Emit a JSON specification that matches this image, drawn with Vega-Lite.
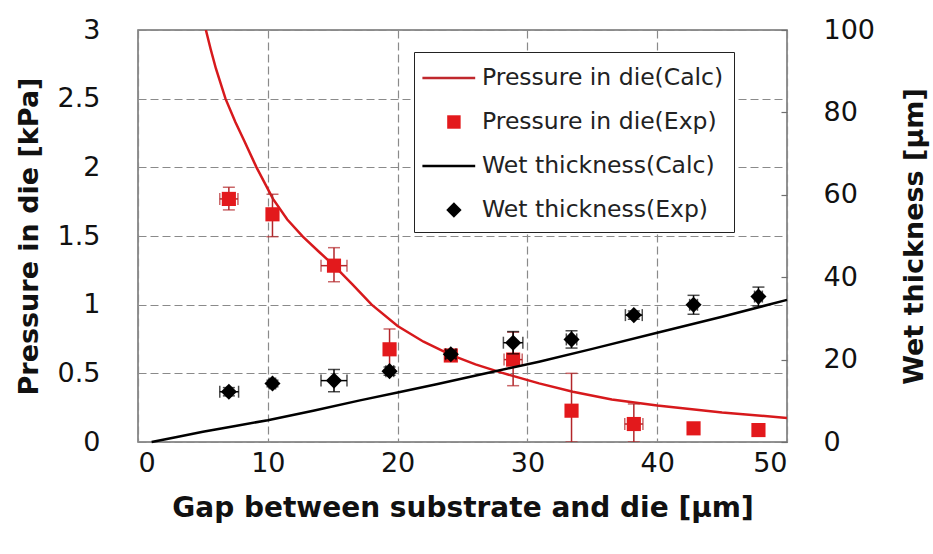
{
  "$schema": "https://vega.github.io/schema/vega-lite/v6.json",
  "width": 649,
  "height": 412,
  "autosize": {"type": "none"},
  "padding": {"left": 138, "top": 30, "right": 146, "bottom": 112},
  "background": "white",
  "config": {
    "font": "DejaVu Sans",
    "view": {"stroke": "#6f6f6f", "strokeWidth": 1.5},
    "axis": {"labelFont": "DejaVu Sans", "titleFont": "DejaVu Sans", "labelColor": "#111", "titleColor": "#111", "domain": false}
  },
  "datasets": {
    "calcP": [
      {"gap": 5.23, "p": 3.0}, {"gap": 5.6, "p": 2.86}, {"gap": 6.0, "p": 2.72}, {"gap": 6.74, "p": 2.5},
      {"gap": 7.5, "p": 2.33}, {"gap": 8.2, "p": 2.19}, {"gap": 9.13, "p": 2.0}, {"gap": 10.4, "p": 1.77},
      {"gap": 11.5, "p": 1.62}, {"gap": 12.7, "p": 1.495}, {"gap": 14.0, "p": 1.38}, {"gap": 15.1, "p": 1.285},
      {"gap": 16.5, "p": 1.15}, {"gap": 18.0, "p": 1.0}, {"gap": 20.0, "p": 0.845}, {"gap": 22.0, "p": 0.73},
      {"gap": 24.1, "p": 0.635}, {"gap": 26.0, "p": 0.565}, {"gap": 28.0, "p": 0.505}, {"gap": 30.9, "p": 0.427},
      {"gap": 33.5, "p": 0.366}, {"gap": 36.5, "p": 0.31}, {"gap": 40.0, "p": 0.266}, {"gap": 45.0, "p": 0.215},
      {"gap": 50.0, "p": 0.175}
    ],
    "calcW": [
      {"gap": 1.05, "w": 0}, {"gap": 3.0, "w": 1.2}, {"gap": 5.0, "w": 2.5}, {"gap": 7.5, "w": 3.9},
      {"gap": 10.0, "w": 5.3}, {"gap": 13.5, "w": 7.6}, {"gap": 17.1, "w": 10.1}, {"gap": 20.0, "w": 12.0},
      {"gap": 23.0, "w": 14.0}, {"gap": 26.3, "w": 16.3}, {"gap": 30.9, "w": 19.5}, {"gap": 35.0, "w": 22.6},
      {"gap": 40.0, "w": 26.5}, {"gap": 45.0, "w": 30.4}, {"gap": 50.0, "w": 34.5}
    ],
    "expP": [
      {"gap": 7.0, "p": 1.77, "pLo": 1.69, "pHi": 1.855, "gLo": 6.3, "gHi": 7.7},
      {"gap": 10.36, "p": 1.658, "pLo": 1.495, "pHi": 1.804, "gLo": 10.1, "gHi": 10.6},
      {"gap": 15.1, "p": 1.284, "pLo": 1.167, "pHi": 1.415, "gLo": 14.1, "gHi": 16.1},
      {"gap": 19.38, "p": 0.675, "pLo": 0.527, "pHi": 0.823, "gLo": 19.1, "gHi": 19.7},
      {"gap": 24.1, "p": 0.63, "pLo": 0.59, "pHi": 0.67, "gLo": 23.8, "gHi": 24.4},
      {"gap": 28.9, "p": 0.6, "pLo": 0.41, "pHi": 0.8, "gLo": 28.2, "gHi": 29.6},
      {"gap": 33.4, "p": 0.228, "pLo": 0.0, "pHi": 0.5, "gLo": 33.1, "gHi": 33.7},
      {"gap": 38.2, "p": 0.131, "pLo": 0.0, "pHi": 0.277, "gLo": 37.5, "gHi": 38.9},
      {"gap": 42.8, "p": 0.0995, "pLo": 0.08, "pHi": 0.12, "gLo": 42.6, "gHi": 43.0},
      {"gap": 47.8, "p": 0.087, "pLo": 0.07, "pHi": 0.105, "gLo": 47.6, "gHi": 48.0}
    ],
    "expW": [
      {"gap": 7.0, "w": 12.2, "wLo": 11.2, "wHi": 13.2, "gLo": 6.3, "gHi": 7.75},
      {"gap": 10.36, "w": 14.2, "wLo": 13.4, "wHi": 15.0, "gLo": 10.1, "gHi": 10.6},
      {"gap": 15.1, "w": 14.9, "wLo": 12.2, "wHi": 17.6, "gLo": 14.1, "gHi": 16.1},
      {"gap": 19.38, "w": 17.2, "wLo": 16.2, "wHi": 18.2, "gLo": 19.1, "gHi": 19.7},
      {"gap": 24.1, "w": 21.3, "wLo": 20.3, "wHi": 22.3, "gLo": 23.7, "gHi": 24.5},
      {"gap": 28.9, "w": 24.1, "wLo": 21.4, "wHi": 26.8, "gLo": 28.15, "gHi": 29.65},
      {"gap": 33.4, "w": 24.9, "wLo": 22.8, "wHi": 27.0, "gLo": 33.0, "gHi": 33.8},
      {"gap": 38.2, "w": 30.8, "wLo": 29.8, "wHi": 31.8, "gLo": 37.55, "gHi": 38.85},
      {"gap": 42.8, "w": 33.3, "wLo": 31.0, "wHi": 35.6, "gLo": 42.5, "gHi": 43.1},
      {"gap": 47.8, "w": 35.3, "wLo": 33.0, "wHi": 37.6, "gLo": 47.5, "gHi": 48.1}
    ],
    "legendItems": [
      {"series": "Pressure in die(Calc)"}, {"series": "Pressure in die(Exp)"},
      {"series": "Wet thickness(Calc)"}, {"series": "Wet thickness(Exp)"}
    ]
  },
  "resolve": {"scale": {"y": "independent"}},
  "layer": [
    {
      "layer": [
        {
          "data": {"name": "calcP"},
          "mark": {"type": "line", "color": "#d7191c", "strokeWidth": 2.5, "clip": true},
          "encoding": {
            "x": {"field": "gap", "type": "quantitative", "scale": {"domain": [0, 50], "nice": false},
              "axis": {"title": "Gap between substrate and die [µm]", "values": [0, 10, 20, 30, 40, 50],
                "grid": true, "gridDash": [8, 4], "gridColor": "#8a8a8a", "gridWidth": 1.2,
                "ticks": false, "labelFontSize": 27, "labelPadding": 8, "titleFontSize": 28, "titleFontWeight": "bold", "titlePadding": 18}},
            "y": {"field": "p", "type": "quantitative", "scale": {"domain": [0, 3], "nice": false},
              "axis": {"title": "Pressure in die [kPa]", "values": [0, 0.5, 1, 1.5, 2, 2.5, 3], "format": "~g", "orient": "left",
                "grid": true, "gridDash": [8, 4], "gridColor": "#8a8a8a", "gridWidth": 1.2,
                "ticks": false, "labelFontSize": 27, "labelPadding": 38, "titleFontSize": 27, "titleFontWeight": "bold", "titlePadding": 14}}
          }
        },
        {
          "data": {"name": "expP"},
          "mark": {"type": "rule", "color": "#b3262a", "strokeWidth": 1.5},
          "encoding": {
            "x": {"field": "gap", "type": "quantitative"},
            "y": {"field": "pLo", "type": "quantitative"},
            "y2": {"field": "pHi"}
          }
        },
        {
          "data": {"name": "expP"},
          "mark": {"type": "rule", "color": "#b3262a", "strokeWidth": 1.5},
          "encoding": {
            "x": {"field": "gLo", "type": "quantitative"},
            "x2": {"field": "gHi"},
            "y": {"field": "p", "type": "quantitative"}
          }
        },
        {
          "data": {"name": "expP"},
          "mark": {"type": "tick", "orient": "horizontal", "color": "#b3262a", "size": 12, "thickness": 1.5},
          "encoding": {
            "x": {"field": "gap", "type": "quantitative"},
            "y": {"field": "pHi", "type": "quantitative"}
          }
        },
        {
          "data": {"name": "expP"},
          "mark": {"type": "tick", "orient": "horizontal", "color": "#b3262a", "size": 12, "thickness": 1.5, "clip": true},
          "encoding": {
            "x": {"field": "gap", "type": "quantitative"},
            "y": {"field": "pLo", "type": "quantitative"}
          }
        },
        {
          "data": {"name": "expP"},
          "mark": {"type": "tick", "orient": "vertical", "color": "#b3262a", "size": 12, "thickness": 1.5},
          "encoding": {
            "x": {"field": "gLo", "type": "quantitative"},
            "y": {"field": "p", "type": "quantitative"}
          }
        },
        {
          "data": {"name": "expP"},
          "mark": {"type": "tick", "orient": "vertical", "color": "#b3262a", "size": 12, "thickness": 1.5},
          "encoding": {
            "x": {"field": "gHi", "type": "quantitative"},
            "y": {"field": "p", "type": "quantitative"}
          }
        },
        {
          "data": {"name": "expP"},
          "mark": {"type": "point", "shape": "square", "filled": true, "color": "#e3191c", "size": 200, "opacity": 1},
          "encoding": {
            "x": {"field": "gap", "type": "quantitative"},
            "y": {"field": "p", "type": "quantitative"}
          }
        },
        {
          "data": {"name": "legendItems"},
          "transform": [{"filter": "false"}],
          "mark": {"type": "point", "filled": true, "opacity": 1},
          "encoding": {
            "color": {"field": "series", "type": "nominal",
              "scale": {"domain": ["Pressure in die(Calc)", "Pressure in die(Exp)", "Wet thickness(Calc)", "Wet thickness(Exp)"],
                "range": ["#c0282d", "#e3191c", "#000000", "#000000"]},
              "legend": {
                "title": null, "orient": "none", "legendX": 276, "legendY": 22,
                "strokeColor": "#222", "fillColor": "white", "padding": 10,
                "labelFont": "DejaVu Sans", "labelFontSize": 23.5, "labelColor": "#222", "labelLimit": 400,
                "symbolSize": 1024, "symbolStrokeWidth": 0, "rowPadding": 16, "labelOffset": 26,
                "symbolOpacity": 1
              }},
            "shape": {"field": "series", "type": "nominal",
              "scale": {"domain": ["Pressure in die(Calc)", "Pressure in die(Exp)", "Wet thickness(Calc)", "Wet thickness(Exp)"],
                "range": ["M-1.1,-0.08H2.2V0.08H-1.1Z", "M0.45,-0.42H1.29V0.42H0.45Z", "M-1.1,-0.08H2.2V0.08H-1.1Z", "M0.87,-0.48L1.35,0L0.87,0.48L0.39,0Z"]},
              "legend": {"title": null}}
          }
        }
      ]
    },
    {
      "layer": [
        {
          "data": {"name": "calcW"},
          "mark": {"type": "line", "color": "#000000", "strokeWidth": 2.5},
          "encoding": {
            "x": {"field": "gap", "type": "quantitative"},
            "y": {"field": "w", "type": "quantitative", "scale": {"domain": [0, 100], "nice": false},
              "axis": {"title": "Wet thickness [µm]", "orient": "right", "values": [0, 20, 40, 60, 80, 100],
                "grid": false, "ticks": true, "tickSize": -6, "tickColor": "#6f6f6f", "tickWidth": 1.2,
                "labelFontSize": 27, "labelPadding": 42, "titleFontSize": 27, "titleFontWeight": "bold",
                "titleAngle": 270, "titlePadding": 54}}
          }
        },
        {
          "data": {"name": "expW"},
          "mark": {"type": "rule", "color": "#000000", "strokeWidth": 1.5},
          "encoding": {
            "x": {"field": "gap", "type": "quantitative"},
            "y": {"field": "wLo", "type": "quantitative"},
            "y2": {"field": "wHi"}
          }
        },
        {
          "data": {"name": "expW"},
          "mark": {"type": "rule", "color": "#000000", "strokeWidth": 1.5},
          "encoding": {
            "x": {"field": "gLo", "type": "quantitative"},
            "x2": {"field": "gHi"},
            "y": {"field": "w", "type": "quantitative"}
          }
        },
        {
          "data": {"name": "expW"},
          "mark": {"type": "tick", "orient": "horizontal", "color": "#000000", "size": 12, "thickness": 1.5},
          "encoding": {
            "x": {"field": "gap", "type": "quantitative"},
            "y": {"field": "wHi", "type": "quantitative"}
          }
        },
        {
          "data": {"name": "expW"},
          "mark": {"type": "tick", "orient": "horizontal", "color": "#000000", "size": 12, "thickness": 1.5},
          "encoding": {
            "x": {"field": "gap", "type": "quantitative"},
            "y": {"field": "wLo", "type": "quantitative"}
          }
        },
        {
          "data": {"name": "expW"},
          "mark": {"type": "tick", "orient": "vertical", "color": "#000000", "size": 12, "thickness": 1.5},
          "encoding": {
            "x": {"field": "gLo", "type": "quantitative"},
            "y": {"field": "w", "type": "quantitative"}
          }
        },
        {
          "data": {"name": "expW"},
          "mark": {"type": "tick", "orient": "vertical", "color": "#000000", "size": 12, "thickness": 1.5},
          "encoding": {
            "x": {"field": "gHi", "type": "quantitative"},
            "y": {"field": "w", "type": "quantitative"}
          }
        },
        {
          "data": {"name": "expW"},
          "mark": {"type": "point", "shape": "diamond", "filled": true, "color": "#000000", "size": 260, "opacity": 1},
          "encoding": {
            "x": {"field": "gap", "type": "quantitative"},
            "y": {"field": "w", "type": "quantitative"}
          }
        }
      ]
    }
  ]
}
